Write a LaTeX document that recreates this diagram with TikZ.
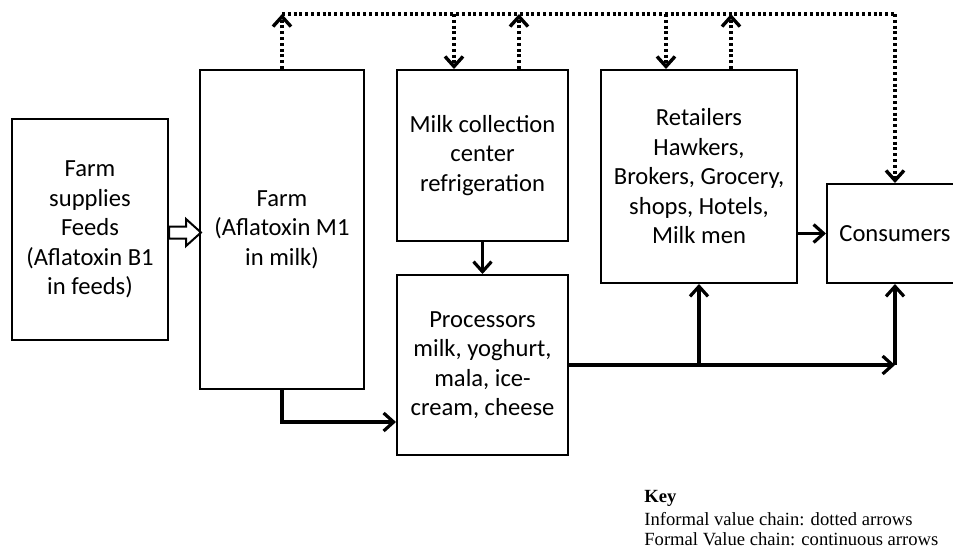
\documentclass[tikz,border=0pt]{standalone}
\usepackage{fontspec}
\setmainfont{Carlito}
\newfontfamily\keyfont{Liberation Serif}
\usetikzlibrary{arrows.meta,calc}

\begin{document}
\begin{tikzpicture}[x=0.5pt, y=-0.5pt,
  box/.style={draw, line width=1pt, align=center, inner sep=0pt,
              font=\fontsize{12.3}{14.75}\selectfont},
  flow/.style={line width=1.6pt, -{Straight Barb[length=5pt,width=9pt]}},
  informal/.style={line width=1.7pt, dash pattern=on 1.5pt off 1.4pt},
  keytext/.style={anchor=base west, inner sep=0pt, font=\keyfont\fontsize{9.3}{10}\selectfont}]
\useasboundingbox (0,0) rectangle (953,554);

  % boxes
  \node[box, minimum width=78pt, minimum height=110.5pt] (supplies) at (90,229.5)
        {Farm\\supplies\\Feeds\\(Aflatoxin B1\\in feeds)};
  \node[box, minimum width=82pt, minimum height=159.5pt] (farm) at (282,229.5)
        {Farm\\(Aflatoxin M1\\in milk)};
  \node[box, minimum width=85.5pt, minimum height=85.5pt] (milk) at (482.5,155.5)
        {Milk collection\\center\\refrigeration};
  \node[box, minimum width=85.5pt, minimum height=90pt] (proc) at (482.5,365)
        {Processors\\milk, yoghurt,\\mala, ice-\\cream, cheese};
  \node[box, minimum width=98pt, minimum height=106.5pt] (retail) at (699,176.5)
        {Retailers\\Hawkers,\\Brokers, Grocery,\\shops, Hotels,\\Milk men};
  \node[box, minimum width=68pt, minimum height=49.5pt] (cons) at (895,233.5)
        {Consumers};

  % feeds into farm
  \draw[line width=1pt, fill=white, shift={($(supplies.east)+(0,3)$)}]
    (0,-6) -- (17,-6) -- (17,-13.5) -- (32,0) -- (17,13.5) -- (17,6) -- (0,6) -- cycle;

  % formal value chain
  \draw[flow] (farm.south) |- ($(proc.west)+(0,57)$);
  \draw[flow] (milk.south) -- (proc.north);
  \coordinate (corner) at (proc.east -| cons.south);
  \draw[flow] (proc.east) -- (corner);
  \draw[flow] (corner) -- (cons.south);
  \draw[flow] (proc.east -| retail.south) -- (retail.south);
  \draw[flow] (retail.east |- cons.west) -- (cons.west);

  % informal value chain
  \coordinate (bus) at (0,14);
  \coordinate (milkin) at ($(milk.north)+(-28.5,0)$);
  \coordinate (milkout) at ($(milk.north)+(36.5,0)$);
  \coordinate (retin) at ($(retail.north)+(-33,0)$);
  \coordinate (retout) at ($(retail.north)+(32,0)$);
  \draw[informal] (farm.north |- bus) -- (cons.north |- bus);
  \draw[informal, -{Straight Barb[length=5pt,width=9pt]}] (farm.north) -- (farm.north |- bus);
  \draw[informal, -{Straight Barb[length=5pt,width=9pt]}] (milkin |- bus) -- (milkin);
  \draw[informal, -{Straight Barb[length=5pt,width=9pt]}] (milkout) -- (milkout |- bus);
  \draw[informal, -{Straight Barb[length=5pt,width=9pt]}] (retin |- bus) -- (retin);
  \draw[informal, -{Straight Barb[length=5pt,width=9pt]}] (retout) -- (retout |- bus);
  \draw[informal, -{Straight Barb[length=5pt,width=9pt]}] (cons.north |- bus) -- (cons.north);

  % key
  \node[keytext] (key) at (644,502) {\bfseries Key};
  \node[keytext] (keyinf) at (644,525) {Informal value chain: dotted arrows};
  \node[keytext] (keyform) at (644,545) {Formal Value chain: continuous arrows};
\end{tikzpicture}
\end{document}
